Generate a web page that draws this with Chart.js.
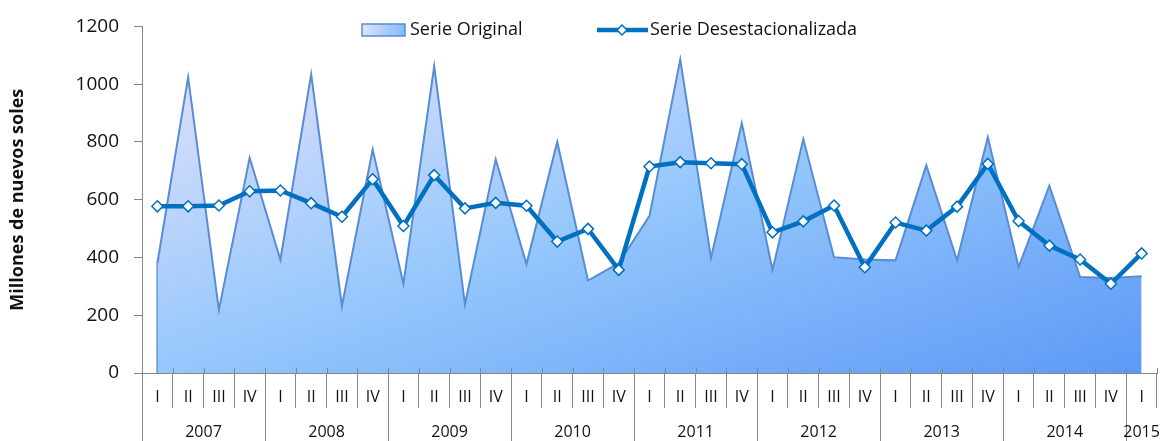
<!DOCTYPE html>
<html>
<head>
<meta charset="utf-8">
<script src="https://cdn.jsdelivr.net/npm/chart.js@4.4.0/dist/chart.umd.min.js"></script>
<style>
html,body{margin:0;padding:0;background:#fff;}
#wrap{width:1164px;height:441px;position:relative;}
</style>
</head>
<body>
<div id="wrap"><canvas id="c" width="1164" height="441"></canvas></div>
<script>
// ---- DATA ----
const quarters = ['I','II','III','IV','I','II','III','IV','I','II','III','IV','I','II','III','IV',
                  'I','II','III','IV','I','II','III','IV','I','II','III','IV','I','II','III','IV','I'];
const years = ['2007','2008','2009','2010','2011','2012','2013','2014','2015'];
const serieOriginal = [380,1024,218,745, 392,1034,232,774, 309,1062,238,740, 377,800,320,380,
                       544,1085,398,865, 357,810,401,393, 390,719,390,816, 367,648,332,329, 335];
const serieDesestacionalizada = [577,577,580,629, 632,588,541,671, 509,685,570,589, 579,455,499,357,
                                 715,730,726,723, 487,525,580,366, 521,493,576,724, 526,441,393,309, 414];
const yTickValues = [0,200,400,600,800,1000,1200];
const seriesNames = ['Serie Original','Serie Desestacionalizada'];
const yTitle = 'Millones de nuevos soles';

// ---- STYLE ----
const AXIS_GRAY = 'rgb(134,134,134)';
const LINE_BLUE = '#0070C0';
const AREA_BORDER = 'rgb(88,140,212)';
const FONT = '"Open Sans", "Liberation Sans", sans-serif';

// year axis ticks (scale values)
const yearTicks = [];
years.forEach((y, i) => {
  const start = 4 * i;
  const count = Math.min(4, quarters.length - start);
  yearTicks.push({value: start - 0.5, label: '', line: true});
  yearTicks.push({value: start + (count - 1) / 2, label: y, line: false});
});
yearTicks.push({value: quarters.length - 0.5, label: '', line: false});
yearTicks.sort((a, b) => a.value - b.value);

function areaGradient(ctx) {
  const ca = ctx.chart.chartArea;
  if (!ca) return 'rgba(150,200,252,1)';
  const W = ca.right - ca.left, H = ca.bottom - ca.top;
  const s = 2 / (H / W + W / H);
  const g = ctx.chart.ctx.createLinearGradient(ca.left, ca.top, ca.left + s * H, ca.top + s * W);
  g.addColorStop(0, 'rgb(236,228,250)');
  g.addColorStop(0.5, 'rgb(150,200,252)');
  g.addColorStop(1, 'rgb(92,152,246)');
  return g;
}

const legendPlugin = {
  id: 'customLegend',
  afterDraw(chart) {
    const c = chart.ctx;
    c.save();
    const g = c.createLinearGradient(362, 24, 405, 36);
    g.addColorStop(0, 'rgb(226,228,252)');
    g.addColorStop(1, 'rgb(130,185,250)');
    c.fillStyle = g;
    c.fillRect(362, 24, 43, 12);
    c.strokeStyle = AREA_BORDER;
    c.lineWidth = 1.5;
    c.strokeRect(362, 24, 43, 12);
    c.fillStyle = '#111';
    c.font = '18px ' + FONT;
    c.textBaseline = 'middle';
    c.textAlign = 'left';
    c.fillText(seriesNames[0], 410, 30);
    c.strokeStyle = LINE_BLUE;
    c.lineWidth = 4.5;
    c.beginPath(); c.moveTo(597, 30); c.lineTo(648, 30); c.stroke();
    c.beginPath();
    c.moveTo(622, 25); c.lineTo(627, 30); c.lineTo(622, 35); c.lineTo(617, 30); c.closePath();
    c.fillStyle = '#fff'; c.fill();
    c.lineWidth = 1.5; c.stroke();
    c.fillStyle = '#111';
    c.fillText(seriesNames[1], 650, 30);
    c.restore();
  }
};

// small tick marks above the category axis + left edge of the area
const axisTickPlugin = {
  id: 'axisTicksAbove',
  beforeDatasetsDraw(chart) {
    const xs = chart.scales.x, ys = chart.scales.y;
    const c = chart.ctx;
    c.save();
    c.strokeStyle = AREA_BORDER;
    c.lineWidth = 2;
    const x0 = xs.getPixelForValue(0);
    c.beginPath(); c.moveTo(x0, ys.getPixelForValue(0)); c.lineTo(x0, ys.getPixelForValue(serieOriginal[0])); c.stroke();
    c.restore();
  },
  afterDraw(chart) {
    const xs = chart.scales.x;
    const c = chart.ctx;
    c.save();
    c.strokeStyle = AXIS_GRAY;
    c.lineWidth = 1;
    for (let i = 0; i <= quarters.length; i++) {
      const px = Math.round(xs.getPixelForValue(i - 0.5)) + 0.5;
      c.beginPath(); c.moveTo(px, xs.top - 5); c.lineTo(px, xs.top); c.stroke();
    }
    c.restore();
  }
};

new Chart(document.getElementById('c'), {
  type: 'line',
  data: {
    labels: quarters,
    datasets: [
      {
        label: seriesNames[1],
        data: serieDesestacionalizada,
        order: 1,
        borderColor: LINE_BLUE,
        borderWidth: 4.5,
        tension: 0,
        fill: false,
        pointStyle: 'rectRot',
        pointRadius: 5.5,
        pointBackgroundColor: '#fff',
        pointBorderColor: LINE_BLUE,
        pointBorderWidth: 1.5
      },
      {
        label: seriesNames[0],
        data: serieOriginal,
        order: 2,
        borderColor: AREA_BORDER,
        borderWidth: 2,
        tension: 0,
        fill: 'origin',
        backgroundColor: areaGradient,
        pointRadius: 0,
        pointHoverRadius: 0
      }
    ]
  },
  options: {
    responsive: false,
    animation: false,
    layout: {padding: {top: 22, right: 4, bottom: 0, left: 0}},
    plugins: {legend: {display: false}, tooltip: {enabled: false}},
    scales: {
      x: {
        type: 'category',
        position: 'bottom',
        weight: 0,
        offset: true,
        grid: {offset: true, drawOnChartArea: false, tickLength: 35, color: AXIS_GRAY, lineWidth: 1},
        border: {color: AXIS_GRAY, width: 1},
        ticks: {autoSkip: false, maxRotation: 0, padding: -20, color: '#111', font: {family: FONT, size: 16}},
        afterFit(s) { s.height = 35; }
      },
      x2: {
        type: 'linear',
        position: 'bottom',
        weight: 1,
        min: -0.5,
        max: quarters.length - 0.5,
        afterBuildTicks(s) { s.ticks = yearTicks.map(t => ({value: t.value})); },
        grid: {
          drawOnChartArea: false,
          tickLength: 33,
          lineWidth: 1,
          color: (ctx) => { const t = yearTicks[ctx.index]; return t && t.line ? AXIS_GRAY : 'rgba(0,0,0,0)'; }
        },
        border: {display: false},
        ticks: {
          autoSkip: false, maxRotation: 0, padding: -18, color: '#111',
          font: {family: FONT, size: 16},
          callback: (v, i) => yearTicks[i] ? yearTicks[i].label : ''
        },
        afterFit(s) { s.height = 33; }
      },
      y: {
        min: 0,
        max: 1200,
        afterBuildTicks(s) { s.ticks = yTickValues.map(v => ({value: v})); },
        grid: {drawOnChartArea: false, tickLength: 8, color: AXIS_GRAY, lineWidth: 1},
        border: {color: AXIS_GRAY, width: 1},
        ticks: {padding: 15, color: '#111', font: {family: FONT, size: 19}, callback: (v) => String(v)},
        title: {display: true, text: yTitle, color: '#111', font: {family: FONT, size: 18, weight: 'bold'}, padding: {top: 7, bottom: 0}},
        afterFit(s) { s.width = 142; }
      }
    }
  },
  plugins: [legendPlugin, axisTickPlugin]
});
</script>
</body>
</html>
